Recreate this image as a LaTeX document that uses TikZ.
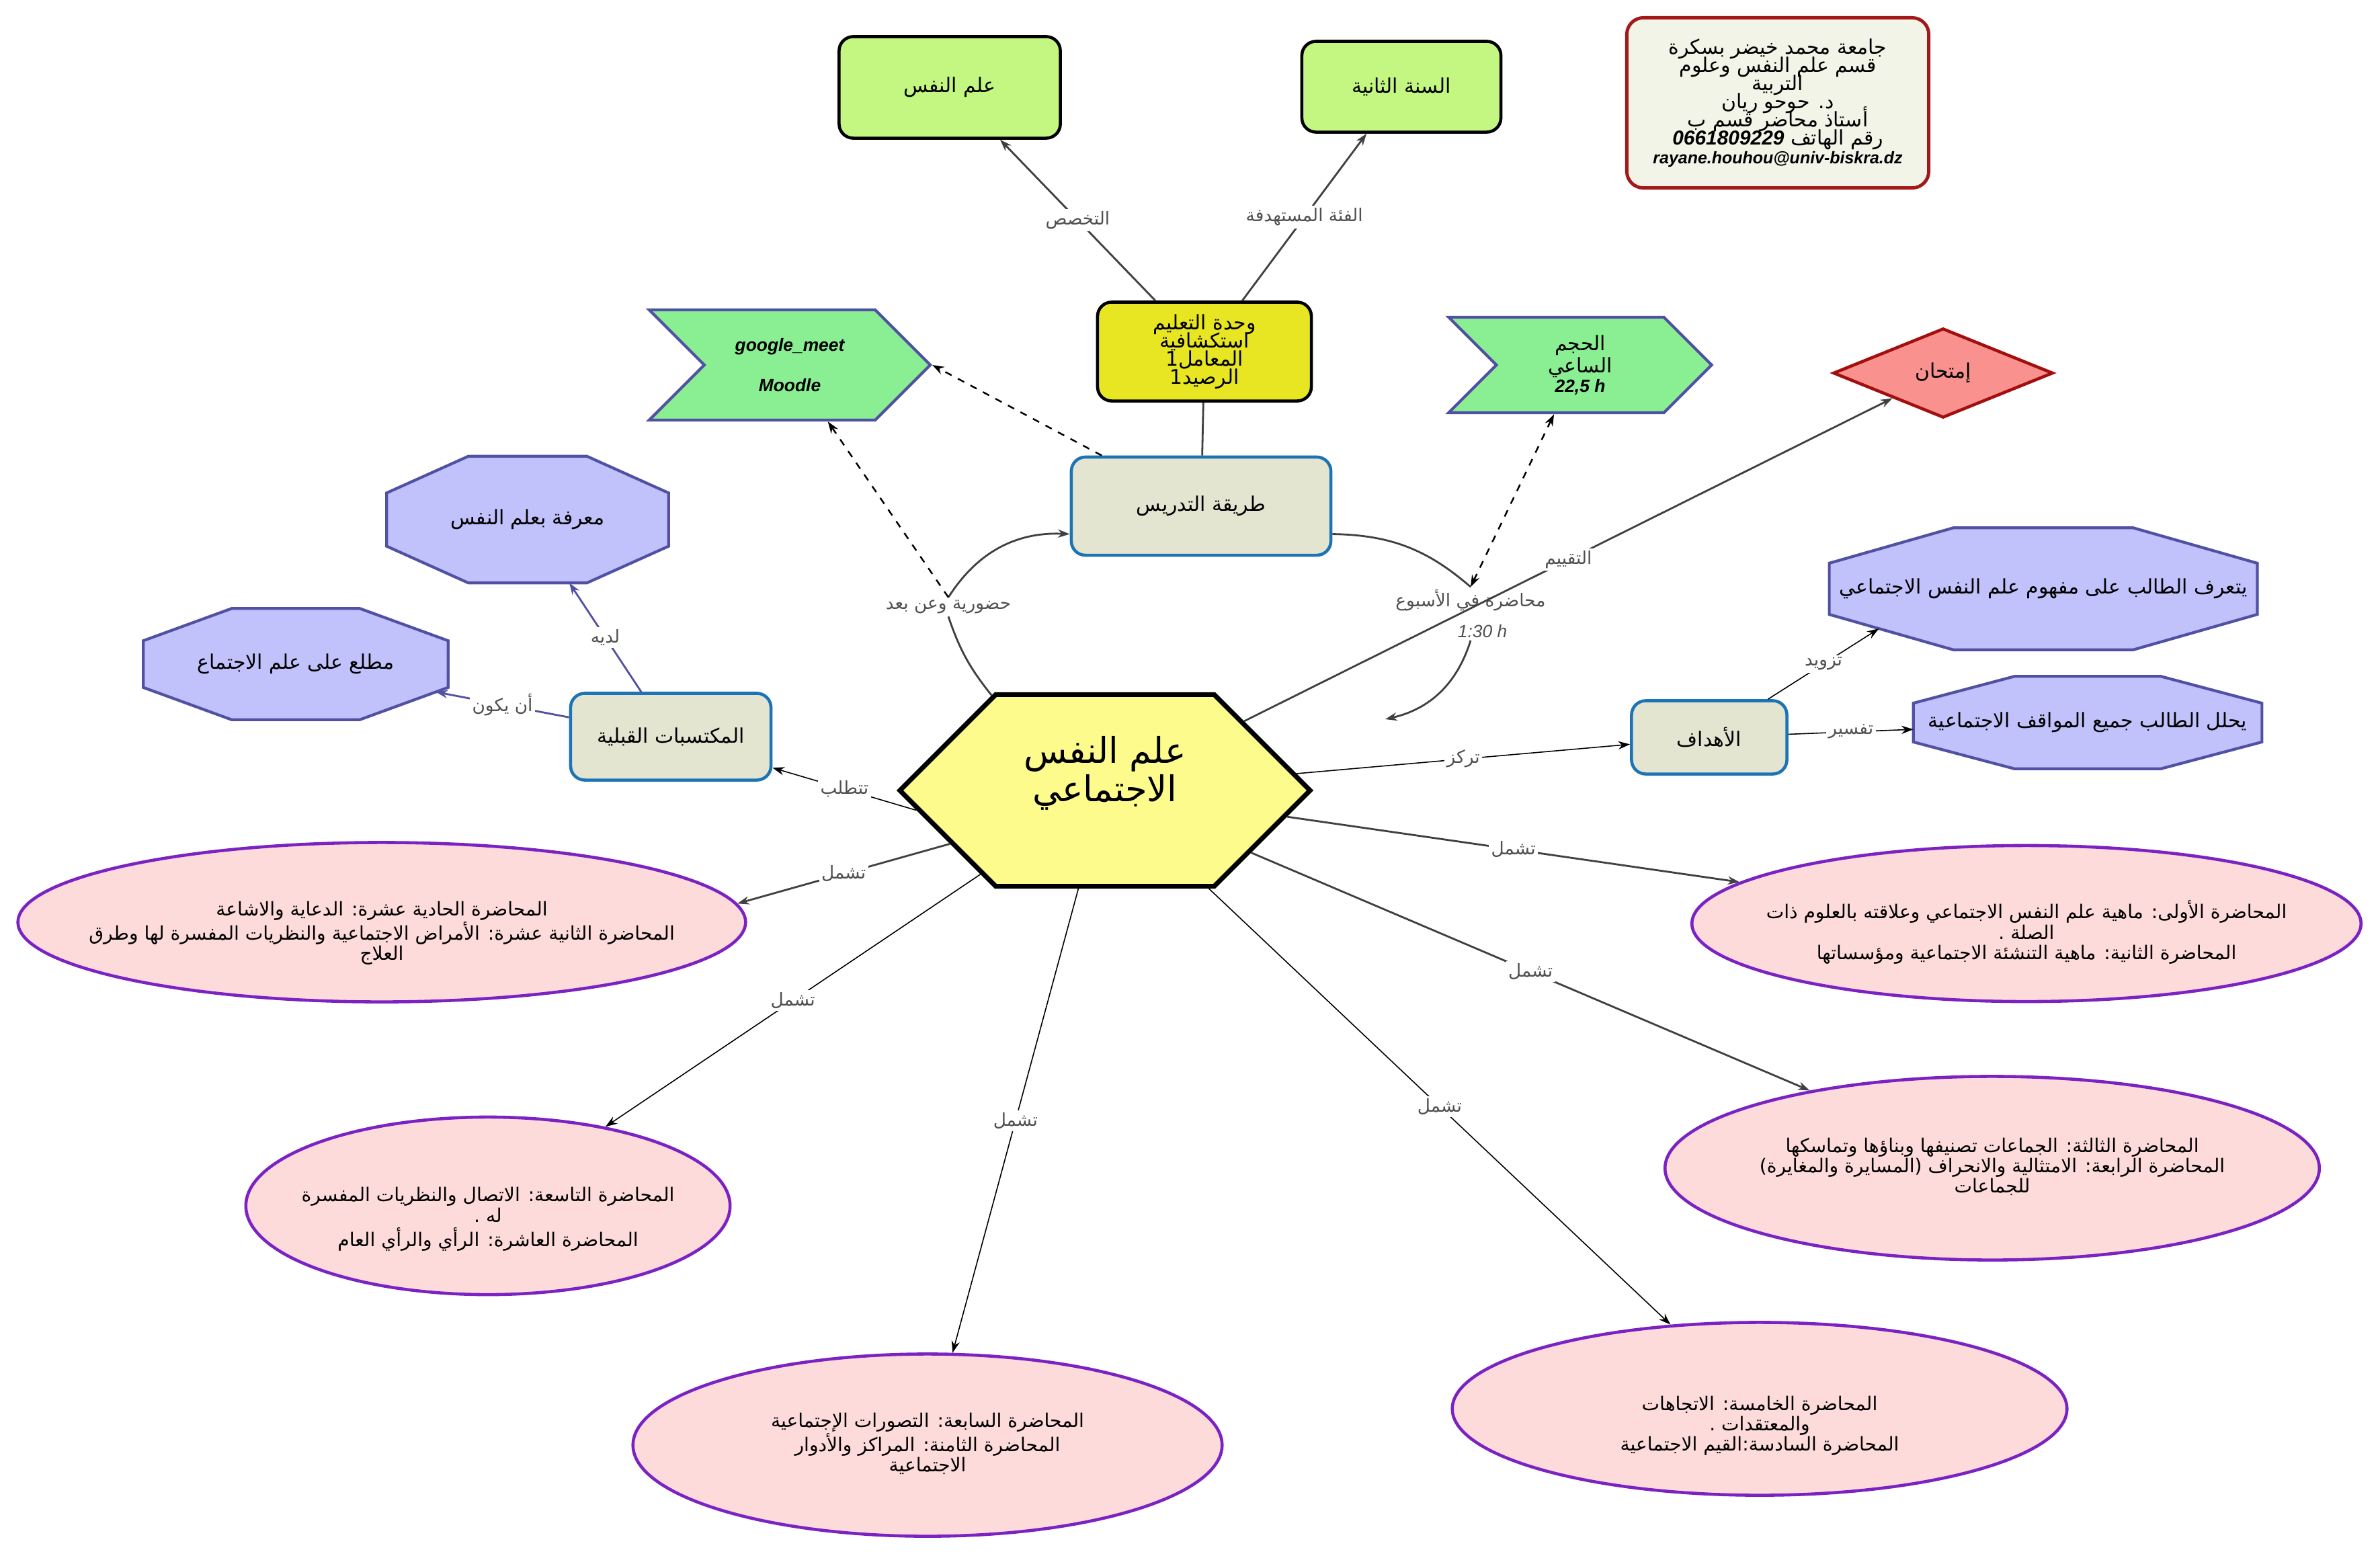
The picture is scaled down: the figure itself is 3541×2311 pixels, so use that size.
\documentclass[tikz,border=0pt]{standalone}
\usepackage{fontspec}
\setmainfont{Liberation Sans}
\newfontfamily\arabicfont[Script=Arabic]{DejaVu Sans}
\TeXXeTstate=1
\usetikzlibrary{shapes.geometric,shapes.symbols,arrows.meta,calc,backgrounds}

\definecolor{leafgreen}{HTML}{C3F782}
\definecolor{unityellow}{HTML}{E8E622}
\definecolor{chevgreen}{HTML}{8AEE92}
\definecolor{violetline}{HTML}{5151A3}
\definecolor{examred}{HTML}{F9928E}
\definecolor{examline}{HTML}{A30E0E}
\definecolor{tanfill}{HTML}{E3E5D1}
\definecolor{tanline}{HTML}{1C74B5}
\definecolor{octfill}{HTML}{C1C1FC}
\definecolor{hexfill}{HTML}{FDFB8C}
\definecolor{lectfill}{HTML}{FDDBDA}
\definecolor{lectline}{HTML}{7B22C3}
\definecolor{infofill}{HTML}{F2F4E8}
\definecolor{infoline}{HTML}{A31818}
\definecolor{phrase}{HTML}{505050}

\newcommand{\ara}[1]{{\arabicfont\beginR #1\endR}}
\newcommand{\lat}[1]{{\rmfamily\bfseries\itshape #1}}
\newcommand{\mlines}[1]{\makebox[0pt]{\begin{tabular}{@{}c@{}}#1\end{tabular}}}
\newcommand{\tightlines}{\lineskiplimit=-20pt\relax}
% octagon drawn round a (borderless) rectangle node
\newcommand{\octagon}[1]{%
  \coordinate (#1-1) at ($(#1.north west)!.29!(#1.north east)$);
  \coordinate (#1-2) at ($(#1.north west)!.71!(#1.north east)$);
  \coordinate (#1-3) at ($(#1.north east)!.29!(#1.south east)$);
  \coordinate (#1-4) at ($(#1.north east)!.71!(#1.south east)$);
  \coordinate (#1-5) at ($(#1.south east)!.29!(#1.south west)$);
  \coordinate (#1-6) at ($(#1.south east)!.71!(#1.south west)$);
  \coordinate (#1-7) at ($(#1.south west)!.29!(#1.north west)$);
  \coordinate (#1-8) at ($(#1.south west)!.71!(#1.north west)$);
  \filldraw[octline] (#1-1) -- (#1-2) -- (#1-3) -- (#1-4) -- (#1-5) -- (#1-6) -- (#1-7) -- (#1-8) -- cycle;}

\begin{document}
\begin{tikzpicture}[x=0.01cm,y=-0.01cm,>={Stealth[length=5pt,width=3.5pt]},
    leaf/.style={rectangle,rounded corners=6pt,draw=black,line width=1.3pt,fill=leafgreen,
      align=center,font=\fontsize{8.5}{7.7}\selectfont\tightlines},
    unitbox/.style={leaf,fill=unityellow},
    tanbox/.style={rectangle,rounded corners=6pt,draw=tanline,line width=1.3pt,fill=tanfill,
      align=center,font=\fontsize{8.5}{8}\selectfont},
    infobox/.style={rectangle,rounded corners=7pt,draw=infoline,line width=1.4pt,fill=infofill,
      align=center,font=\fontsize{8.5}{7.7}\selectfont\tightlines},
    chevron/.style={signal,signal from=west,signal to=east,draw=violetline,line width=1.2pt,
      fill=chevgreen,align=center,inner sep=0pt,font=\fontsize{7.5}{8}\selectfont},
    hexa/.style={signal,signal to=east and west,draw=black,line width=2pt,fill=hexfill,
      inner sep=0pt,font=\fontsize{15}{16}\selectfont},
    octa/.style={rectangle,inner sep=0pt,font=\fontsize{8.5}{8}\selectfont},
    octline/.style={draw=violetline,line width=1.2pt,fill=octfill},
    lect/.style={ellipse,draw=lectline,line width=1.3pt,fill=lectfill,inner sep=0pt,
      font=\fontsize{8}{8.4}\selectfont},
    lbl/.style={fill=white,inner sep=1pt,text=phrase,font=\fontsize{7.5}{8}\selectfont},
    link/.style={draw=black!75,line width=0.8pt},
    thinlink/.style={draw=black,line width=0.45pt},
    bluelink/.style={draw=violetline,line width=0.8pt},
    dlink/.style={draw=black,line width=0.7pt,dashed}]

    \useasboundingbox (0,0) rectangle (3541,2311);

    % top row
    \node[leaf,minimum width=3.29cm,minimum height=1.51cm] (psych) at (1413,130) {\ara{علم النفس}};
    \node[leaf,minimum width=2.96cm,minimum height=1.35cm] (year) at (2085,129) {\ara{السنة الثانية}};
    \node[infobox,minimum width=4.49cm,minimum height=2.53cm] (info) at (2645,153)
        {\ara{جامعة محمد خيضر بسكرة}\\\ara{قسم علم النفس وعلوم}\\\ara{التربية}\\
         \ara{د. حوحو ريان}\\\ara{أستاذ محاضر قسم ب}\\
         \ara{رقم الهاتف \beginL\lat{0661809229}\endL}\\{\fontsize{7.1}{8}\selectfont\lat{rayane.houhou@univ-biskra.dz}}};

    \node[unitbox,minimum width=3.18cm,minimum height=1.47cm] (unit) at (1792,523)
        {\ara{وحدة التعليم}\\\ara{استكشافية}\\\ara{المعامل1}\\\ara{الرصيد1}};
    \node[chevron,minimum width=4.18cm,minimum height=1.64cm] (meet) at (1175,543)
        {\lat{google\_meet}\\[9pt]\lat{Moodle}};
    \node[chevron,minimum width=3.91cm,minimum height=1.42cm,font=\fontsize{8.5}{8}\selectfont] (hours) at (2351,543)
        {\ara{الحجم}\\\ara{الساعي}\\{\fontsize{7.5}{8}\selectfont\lat{22,5 h}}};
    \node[diamond,draw=examline,line width=1.3pt,fill=examred,minimum width=3.27cm,minimum height=1.33cm,
        inner sep=0pt,font=\fontsize{8.5}{8}\selectfont] (exam) at (2891,555) {\ara{إمتحان}};

    \node[tanbox,minimum width=3.86cm,minimum height=1.46cm] (method) at (1787,753) {\ara{طريقة التدريس}};

    % left side
    \node[octa,minimum width=4.18cm,minimum height=1.87cm] (know) at (785,773) {\ara{معرفة بعلم النفس}};
    \node[octa,minimum width=4.52cm,minimum height=1.64cm] (aware) at (440,988) {\ara{مطلع على علم الاجتماع}};
    \node[tanbox,minimum width=2.98cm,minimum height=1.29cm] (prior) at (998,1096) {\ara{المكتسبات القبلية}};

    % centre
    \node[hexa,minimum width=6.1cm,minimum height=2.85cm] (hex) at (1644,1176)
        {\raisebox{3pt}[0pt][0pt]{\mlines{\ara{علم النفس}\\\ara{الاجتماعي}}}};

    % right side
    \node[tanbox,minimum width=2.31cm,minimum height=1.09cm] (goals) at (2543,1097) {\ara{الأهداف}};
    \node[octa,minimum width=6.35cm,minimum height=1.8cm] (learn) at (3040,876)
        {\ara{يتعرف الطالب على مفهوم علم النفس الاجتماعي}};
    \node[octa,minimum width=5.17cm,minimum height=1.36cm] (analyze) at (3106,1075)
        {\ara{يحلل الطالب جميع المواقف الاجتماعية}};

    \begin{scope}[on background layer]
        \octagon{know}
        \octagon{aware}
        \octagon{learn}
        \octagon{analyze}
    \end{scope}

    % lectures
    \node[lect,minimum width=9.95cm,minimum height=2.32cm] (e1) at (3015,1374)
        {\raisebox{-6pt}[0pt][0pt]{\mlines{\ara{المحاضرة الأولى: ماهية علم النفس الاجتماعي وعلاقته بالعلوم ذات}\\\ara{الصلة .}\\
         \ara{المحاضرة الثانية: ماهية التنشئة الاجتماعية ومؤسساتها}}}};
    \node[lect,minimum width=10.82cm,minimum height=2.37cm] (e11) at (568,1372)
        {\raisebox{-7pt}[0pt][0pt]{\mlines{\ara{المحاضرة الحادية عشرة: الدعاية والاشاعة}\\
         \ara{المحاضرة الثانية عشرة: الأمراض الاجتماعية والنظريات المفسرة لها وطرق}\\\ara{العلاج}}}};
    \node[lect,minimum width=9.73cm,minimum height=2.73cm] (e3) at (2964,1738)
        {\mlines{\ara{المحاضرة الثالثة: الجماعات تصنيفها وبناؤها وتماسكها}\\
         \ara{المحاضرة الرابعة: الامتثالية والانحراف (المسايرة والمغايرة)}\\\ara{للجماعات}}};
    \node[lect,minimum width=7.2cm,minimum height=2.64cm] (e9) at (726,1794)
        {\raisebox{-8pt}[0pt][0pt]{\mlines{\ara{المحاضرة التاسعة: الاتصال والنظريات المفسرة}\\\ara{له .}\\
         \ara{المحاضرة العاشرة: الرأي والرأي العام}}}};
    \node[lect,minimum width=8.76cm,minimum height=2.71cm] (e7) at (1380,2150)
        {\mlines{\ara{المحاضرة السابعة: التصورات الإجتماعية}\\
         \ara{المحاضرة الثامنة: المراكز والأدوار}\\\ara{الاجتماعية}}};
    \node[lect,minimum width=9.14cm,minimum height=2.57cm] (e5) at (2618,2096)
        {\raisebox{-9.5pt}[0pt][0pt]{\mlines{\ara{المحاضرة الخامسة: الاتجاهات}\\\ara{والمعتقدات .}\\
         \ara{المحاضرة السادسة:القيم الاجتماعية}}}};

    % linking phrases
    \node[lbl,fill=none] (presence) at (1411,903) {\ara{حضورية وعن بعد}};
    \node[lbl,fill=none,align=center] (weekly) at (2188,913) {\ara{محاضرة في الأسبوع}\\[5pt]\hspace*{10pt}{\itshape 1:30 h}};
    \coordinate (weekend) at (2061,1070);
    \coordinate (awarein) at ($(aware-4)!.14!(aware-5)$);
    \coordinate (learnin) at ($(learn-7)!.4!(learn-6)$);

    % connectors
    \draw[link,->] (unit) -- node[lbl] {\ara{التخصص}} (psych);
    \draw[link,->] (unit) -- node[lbl] {\ara{الفئة المستهدفة}} (year);
    \draw[link] (method) -- (unit);
    \draw[dlink,->] (method.153) -- (meet.east);
    \draw[link] (hex.140) to[bend left=10] (presence.south);
    \draw[link,->] (presence.north) to[bend left=30] (method.192);
    \draw[dlink,->] (presence.north) -- (meet.-56);
    \draw[link] (method.-12) to[bend left=20] (weekly.north);
    \draw[link,->] (weekly.south) to[bend left=30] (weekend);
    \draw[dlink,<->] (weekly.north) -- (hours.-118);
    \draw[link,->] (hex) -- node[lbl] {\ara{التقييم}} (exam);

    \draw[thinlink,->] (hex) -- node[lbl] {\ara{تركز}} (goals);
    \draw[thinlink,->] (goals.33) -- node[lbl] {\ara{تزويد}} (learnin);
    \draw[thinlink,->] (goals) -- node[lbl] {\ara{تفسير}} (analyze);

    \draw[thinlink,->] (hex.186) -- node[lbl] {\ara{تتطلب}} (prior.-17);
    \draw[bluelink,->] (prior) -- node[lbl] {\ara{لديه}} (know);
    \draw[bluelink,->] (prior) -- node[lbl] {\ara{أن يكون}} (awarein);

    \draw[link,->] (hex.199) -- node[lbl] {\ara{تشمل}} (e11.3);
    \draw[thinlink,->] (hex) -- node[lbl] {\ara{تشمل}} (e9);
    \draw[thinlink,->] (hex) -- node[lbl] {\ara{تشمل}} (e7);
    \draw[thinlink,->] (hex) -- node[lbl] {\ara{تشمل}} (e5);
    \draw[link,->] (hex) -- node[lbl] {\ara{تشمل}} (e3);
    \draw[link,->] (hex) -- node[lbl] {\ara{تشمل}} (e1);
\end{tikzpicture}
\end{document}
